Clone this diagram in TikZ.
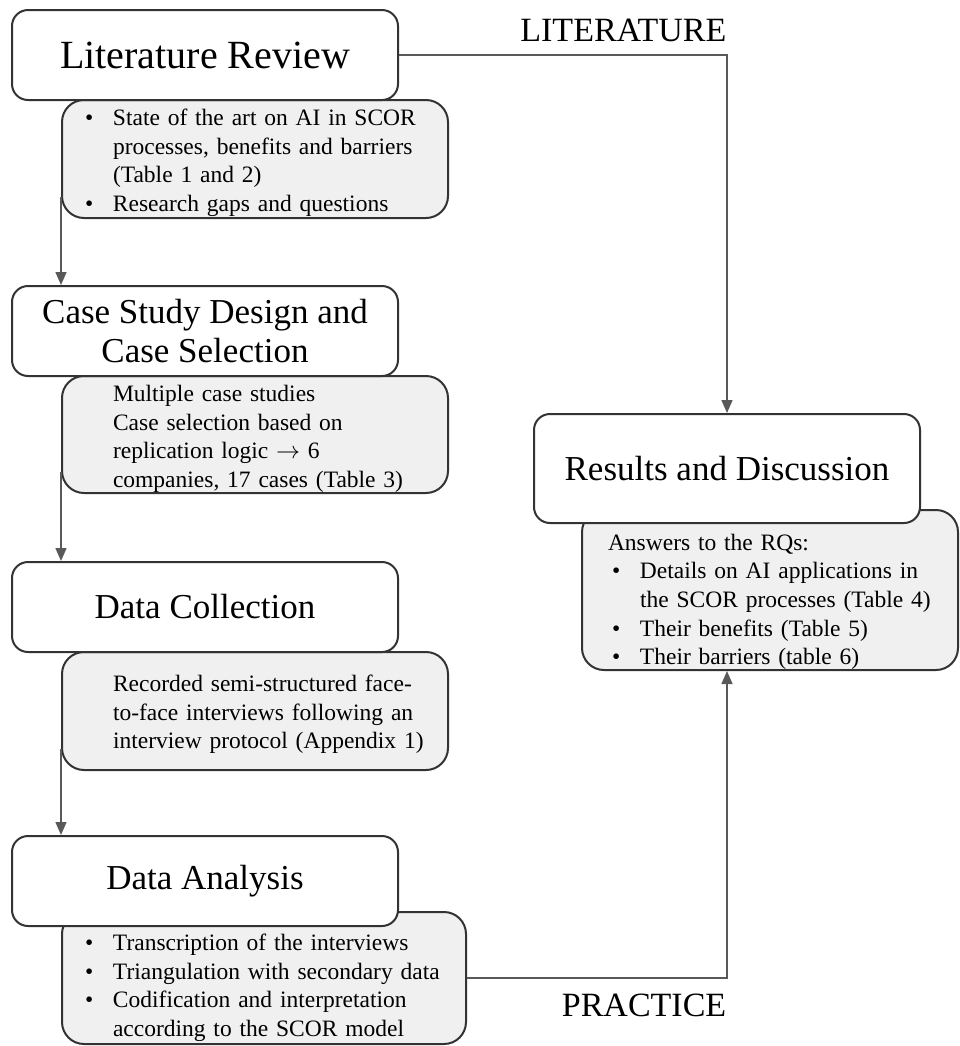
\documentclass[tikz,border=0pt]{standalone}
\usepackage{fontspec}
\setmainfont{Liberation Serif}
\usetikzlibrary{arrows.meta, positioning}

\newcommand{\bul}{\makebox[14pt][l]{\textbullet}}
\newcommand{\ind}{\hspace*{14pt}}
\newcommand{\lift}[1]{\rule{0pt}{#1}}

\tikzset{
  stage/.style={draw=black!80, line width=1pt, fill=white, rounded corners=8pt,
    minimum width=193pt, minimum height=45pt, align=center,
    font=\fontsize{17.5}{19.5}\selectfont},
  notes/.style={draw=black!80, line width=1pt, fill=black!6, rounded corners=11pt,
    align=left, inner xsep=11.5pt, inner ysep=0pt, text width=170pt,
    font=\fontsize{11.75}{14.3}\selectfont},
  link/.style={draw=black!65, line width=0.75pt, -{Triangle[width=5.5pt,length=6.5pt]}},
  tag/.style={font=\fontsize{17}{20}\selectfont, inner sep=0pt},
}

\begin{document}
\begin{tikzpicture}[x=0.5pt, y=-0.5pt]
  \useasboundingbox (0,0) rectangle (960,1046);

  % grey detail boxes first, the stage boxes sit on top of them
  \node[notes, minimum height=59pt] (g1) at (255,159)
    {\lift{12pt}\bul State of the art on AI in SCOR\\ \ind processes, benefits and barriers\\
     \ind (Table 1 and 2)\\ \bul Research gaps and questions};
  \node[notes, minimum height=58.5pt] (g2) at (255,434.5)
    {\lift{12.5pt}\ind Multiple case studies\\ \ind Case selection based on\\
     \ind replication logic $\rightarrow$ 6\\ \ind companies, 17 cases (Table 3)};
  \node[notes, minimum height=59pt] (g3) at (255,711)
    {\lift{11.5pt}\ind Recorded semi-structured face-\\ \ind to-face interviews following an\\
     \ind interview protocol (Appendix 1)};
  \node[notes, minimum height=66pt, text width=179pt] (g4) at (264,978)
    {\lift{18pt}\bul Transcription of the interviews\\ \bul Triangulation with secondary data\\
     \bul Codification and interpretation\\ \ind according to the SCOR model};
  \node[notes, minimum height=80pt, inner xsep=13pt, text width=162pt] (g5) at (770,590)
    {\lift{20pt}Answers to the RQs:\\ \hspace*{2pt}\bul Details on AI applications in\\
     \hspace*{16pt}the SCOR processes (Table 4)\\ \hspace*{2pt}\bul Their benefits (Table 5)\\
     \hspace*{2pt}\bul Their barriers (table 6)};

  % stages
  \node[stage, font=\fontsize{20}{24}\selectfont] (lit) at (205,55) {Literature Review};
  \node[stage] (design) at (205,331) {Case Study Design and\\Case Selection};
  \node[stage] (collect) at (205,607) {Data Collection};
  \node[stage] (analysis) at (205,881) {Data Analysis};
  \node[stage, minimum height=54.5pt] (results) at (727,468.5) {Results and Discussion};

  % flow
  \draw[link] ([yshift=11pt]g1.south west) -- (g1.south west |- design.north);
  \draw[link] ([yshift=11pt]g2.south west) -- (g2.south west |- collect.north);
  \draw[link] ([yshift=11pt]g3.south west) -- (g3.south west |- analysis.north);
  \draw[link] (lit.east) -| node[tag, pos=0.5, anchor=south east, yshift=6pt] {LITERATURE} (results.north);
  \draw[link] (g4.east) -| node[tag, pos=0.5, anchor=north east, yshift=-7.5pt] {PRACTICE} (results.south |- g5.south);
\end{tikzpicture}
\end{document}
